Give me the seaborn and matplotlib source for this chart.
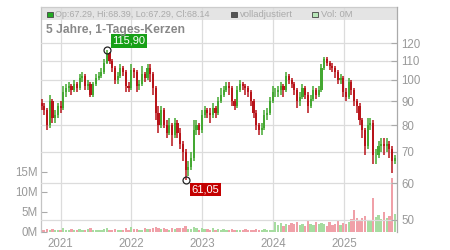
import pandas as pd
import seaborn as sns
import matplotlib.pyplot as plt
from matplotlib.patches import Rectangle
from matplotlib.ticker import FixedLocator, FixedFormatter, NullLocator

# ---- chart data (one candle per two weeks) ----
startDate = "2020-09-25"

closePrices = [
    88, 86, 80, 90, 83, 84, 88, 87, 94, 96,
    97, 95, 98, 96, 101, 102, 97, 98, 93, 98,
    101, 102, 104, 109, 114, 110, 106, 100, 102, 106,
    104, 97, 96, 105, 104, 97, 98, 103, 101, 106,
    103, 96, 85, 80, 86, 80, 77, 80, 76, 81,
    77, 73, 70, 64, 65, 68, 78, 80, 78, 84,
    86, 85, 84, 87, 85, 90, 93, 95, 97, 96,
    90, 88, 95, 98, 97, 96, 94, 90, 85, 80,
    78, 79, 84, 85, 90, 94, 94, 95, 97, 95,
    102, 100, 98, 95, 90, 92, 96, 93, 88, 91,
    95, 93, 95, 106, 111, 109, 107, 106, 104, 100,
    101, 94, 92, 99, 95, 90, 88, 82, 78, 72,
    80, 81, 69, 69, 72, 73, 72, 73, 71, 67,
    68,
]

highPrices = [
    91, 89, 87, 93, 91, 86, 89, 90, 97, 98,
    99, 98, 100, 99, 103, 104, 103, 100, 99, 99,
    103, 104, 106, 111, 115.9, 115, 111, 107, 104, 108,
    107, 105, 99, 108, 106, 105, 100, 107, 104, 108,
    108, 104, 97, 88, 88, 87, 82, 83, 81, 83,
    82, 79, 74, 71, 67, 70, 82, 82, 81, 86,
    88, 87, 87, 89, 88, 92, 96, 97, 99, 99,
    97, 91, 97, 100, 99, 98, 97, 95, 91, 86,
    81, 81, 86, 87, 92, 97, 96, 97, 99, 98,
    104, 103, 101, 99, 96, 94, 98, 97, 94, 93,
    97, 96, 97, 108, 112, 112, 110, 109, 107, 105,
    103, 102, 96, 101, 100, 96, 91, 89, 83, 79,
    83, 83, 82, 71, 74, 75, 75, 75, 74, 72,
    69,
]

lowPrices = [
    86, 84, 78, 79, 81, 81, 83, 85, 86, 92,
    94, 93, 94, 94, 95, 99, 95, 95, 92, 92,
    97, 100, 101, 103, 108, 108, 104, 98, 98, 101,
    102, 94, 94, 95, 101, 94, 95, 97, 99, 100,
    99, 93, 82, 77, 79, 79, 75, 76, 72, 75,
    75, 71, 67, 61.05, 62, 64, 67, 76, 76, 77,
    83, 83, 81, 83, 83, 84, 89, 92, 94, 93,
    88, 86, 87, 94, 95, 93, 92, 88, 83, 78,
    76, 76, 78, 82, 84, 89, 92, 92, 93, 92,
    94, 98, 96, 93, 87, 88, 91, 91, 85, 87,
    90, 91, 92, 94, 105, 107, 105, 104, 101, 98,
    98, 92, 90, 91, 93, 88, 85, 80, 75, 69,
    71, 78, 66, 66, 68, 70, 69, 70, 68, 63,
    66,
]

firstOpen = 89

volumeMillions = [
    0.6, 0.4, 0.8, 0.5, 0.7, 0.4, 0.6, 0.5, 0.9, 0.6,
    0.5, 0.7, 0.4, 0.6, 0.8, 0.5, 0.4, 0.7, 0.9, 0.5,
    0.6, 0.4, 0.5, 0.7, 1.0, 0.6, 0.5, 0.8, 0.4, 0.6,
    0.5, 0.9, 0.6, 1.2, 0.7, 0.8, 0.5, 0.6, 0.9, 0.7,
    0.8, 1.0, 1.3, 0.9, 0.7, 1.1, 0.8, 0.6, 1.0, 0.7,
    0.9, 1.1, 1.0, 1.4, 0.8, 0.7, 1.3, 0.9, 0.6, 1.0,
    0.7, 0.8, 0.5, 0.9, 0.6, 0.7, 0.5, 0.8, 0.6, 0.4,
    0.7, 0.5, 0.6, 0.4, 0.5, 0.7, 0.4, 0.6, 0.5, 0.8,
    0.6, 0.5, 0.7, 0.4, 0.6, 0.5,
    2.4, 1.8, 2.2, 1.6, 2.0, 1.7, 2.3, 1.9,
    2.6, 1.8, 2.1, 1.5, 2.7, 2.0, 1.7, 2.4, 1.9, 2.2,
    2.0, 1.6, 2.5, 1.8, 2.1, 2.9, 1.7, 2.3, 2.0,
    2.4, 3.2, 5.5, 3.6, 2.8, 3.4, 4.0, 3.1, 3.0, 8.5,
    3.8, 4.2, 3.3, 5.0, 3.6, 4.1, 13.5, 4.6,
]

priceTicks = [50, 60, 70, 80, 90, 100, 110, 120]
volumeTicks = [0, 5, 10, 15]
yearLabels = ["2021", "2022", "2023", "2024", "2025"]

legendOhlc = "Op:67.29, Hi:68.39, Lo:67.29, Cl:68.14"
chartTitle = "5 Jahre, 1-Tages-Kerzen"

# ---- colours ----
candleGreen = "#44a832"
candleRed = "#b8141a"
volGreen = "#a6dca0"
volRed = "#f0a0a8"
gridGray = "#dcdcdc"
textGray = "#999999"


def buildFrame() :
    frame = pd.DataFrame({
        "date" : pd.date_range(startDate, periods = len(closePrices), freq = "14D"),
        "open" : [firstOpen] + closePrices[:-1],
        "high" : highPrices,
        "low" : lowPrices,
        "close" : closePrices,
        "volume" : [v * 1e6 for v in volumeMillions],
    })
    frame["rising"] = frame["close"] >= frame["open"]
    return frame


sns.set_theme(style = "whitegrid")
plt.rcParams["font.family"] = ["Liberation Sans", "DejaVu Sans"]

dataFrame = buildFrame()

fig = plt.figure(figsize = (4.5, 2.5), dpi = 100)
volAx = fig.add_axes([41 / 450, 18 / 250, 356 / 450, 225 / 250])
priceAx = volAx.twinx()

# volume bars on the left axis
volColors = [volGreen if up else volRed for up in dataFrame["rising"]]
volAx.bar(dataFrame["date"], dataFrame["volume"], width = 12, color = volColors, linewidth = 0)
volAx.set_ylim(0, 56.25e6)
volAx.yaxis.set_major_locator(FixedLocator([v * 1e6 for v in volumeTicks]))
volAx.yaxis.set_major_formatter(FixedFormatter([f"{v}M" for v in volumeTicks]))
volAx.grid(False, axis = "y")

# candles on the right (log) axis
candleColors = [candleGreen if up else candleRed for up in dataFrame["rising"]]
priceAx.vlines(dataFrame["date"], dataFrame["low"], dataFrame["high"], colors = candleColors, linewidth = 1.1)
bodyLow = dataFrame[["open", "close"]].min(axis = 1)
bodyHigh = dataFrame[["open", "close"]].max(axis = 1)
priceAx.bar(dataFrame["date"], bodyHigh - bodyLow, bottom = bodyLow, width = 11,
            color = candleColors, linewidth = 0)
priceAx.set_yscale("log")
priceAx.set_ylim(47.1, 143.5)
priceAx.yaxis.set_major_locator(FixedLocator(priceTicks))
priceAx.yaxis.set_major_formatter(FixedFormatter([str(v) for v in priceTicks]))
priceAx.yaxis.set_minor_locator(NullLocator())
priceAx.grid(True, axis = "y", color = gridGray, linewidth = 0.9)
priceAx.grid(False, axis = "x")

# x axis: year starts
yearDates = pd.to_datetime([f"{y}-01-01" for y in yearLabels])
volAx.set_xlim(pd.Timestamp("2020-09-22"), pd.Timestamp("2025-09-30"))
volAx.set_xticks(yearDates)
volAx.set_xticklabels(yearLabels)
volAx.grid(True, axis = "x", color = gridGray, linewidth = 0.9)

# spines and ticks
for side in ["right", "bottom"] :
    volAx.spines[side].set_visible(False)
for side in ["left", "top", "bottom"] :
    priceAx.spines[side].set_visible(False)
volAx.spines["left"].set_color("#c4c4c4")
volAx.spines["top"].set_color("#cccccc")
priceAx.spines["right"].set_color("#aaaaaa")
for spine in [volAx.spines["left"], volAx.spines["top"], priceAx.spines["right"]] :
    spine.set_linewidth(0.9)

volAx.tick_params(axis = "y", left = True, direction = "in", length = 4, width = 0.8,
                  color = "#aaaaaa", labelsize = 8.3, labelcolor = textGray, pad = 2)
volAx.tick_params(axis = "x", bottom = False, length = 0, labelsize = 8.3, labelcolor = textGray, pad = 4)
priceAx.tick_params(axis = "y", right = True, direction = "in", length = 4, width = 0.8,
                    color = "#aaaaaa", labelsize = 8.3, labelcolor = textGray, pad = 3)

# grey legend strip behind the grid
volAx.add_patch(Rectangle((0, 212.5 / 225), 1, 12.5 / 225, transform = volAx.transAxes,
                          facecolor = "#e4e4e4", edgecolor = "none", zorder = 0.1))

# extreme markers with labels
highIdx = dataFrame["high"].idxmax()
lowIdx = dataFrame["low"].idxmin()
highDate, highVal = dataFrame.loc[highIdx, "date"], dataFrame.loc[highIdx, "high"]
lowDate, lowVal = dataFrame.loc[lowIdx, "date"], dataFrame.loc[lowIdx, "low"]

priceAx.plot([highDate, lowDate], [highVal, lowVal], linestyle = "none", marker = "o",
             markersize = 5, markerfacecolor = "none", markeredgecolor = "#222222",
             markeredgewidth = 0.9, zorder = 5)
priceAx.annotate(f"{highVal:.2f}".replace(".", ","), xy = (highDate, highVal),
                 xytext = (4, 3), textcoords = "offset points", ha = "left", va = "bottom",
                 color = "white", fontsize = 8, zorder = 6,
                 bbox = dict(boxstyle = "square,pad=0.15", facecolor = "#17a017", edgecolor = "none"))
priceAx.annotate(f"{lowVal:.2f}".replace(".", ","), xy = (lowDate, lowVal),
                 xytext = (4, -3.5), textcoords = "offset points", ha = "left", va = "top",
                 color = "white", fontsize = 8, zorder = 6,
                 bbox = dict(boxstyle = "square,pad=0.15", facecolor = "#c40000", edgecolor = "none"))

# legend strip items and title (figure pixel coordinates)
def figBox(x, y, color) :
    fig.add_artist(Rectangle((x / 450, 1 - (y + 5.5) / 250), 5.5 / 450, 5.5 / 250,
                             transform = fig.transFigure, facecolor = color,
                             edgecolor = "#444444", linewidth = 0.6))

def figText(x, y, text, **kwargs) :
    fig.text(x / 450, 1 - y / 250, text, va = "center", ha = "left", **kwargs)

figBox(47, 11.7, "#22aa22")
figText(55, 14.5, legendOhlc, fontsize = 6.5, color = "#aaaaaa")
figBox(231, 11.7, "#555555")
figText(240, 14.5, "volladjustiert", fontsize = 6.8, color = "#aaaaaa")
figBox(312, 11.7, "#b8e6b8")
figText(321, 14.5, "Vol: 0M", fontsize = 6.8, color = "#aaaaaa")
figText(46, 30, chartTitle, fontsize = 8.7, fontweight = "bold", color = "#888888")

fig.savefig("out.png", dpi = 100)
